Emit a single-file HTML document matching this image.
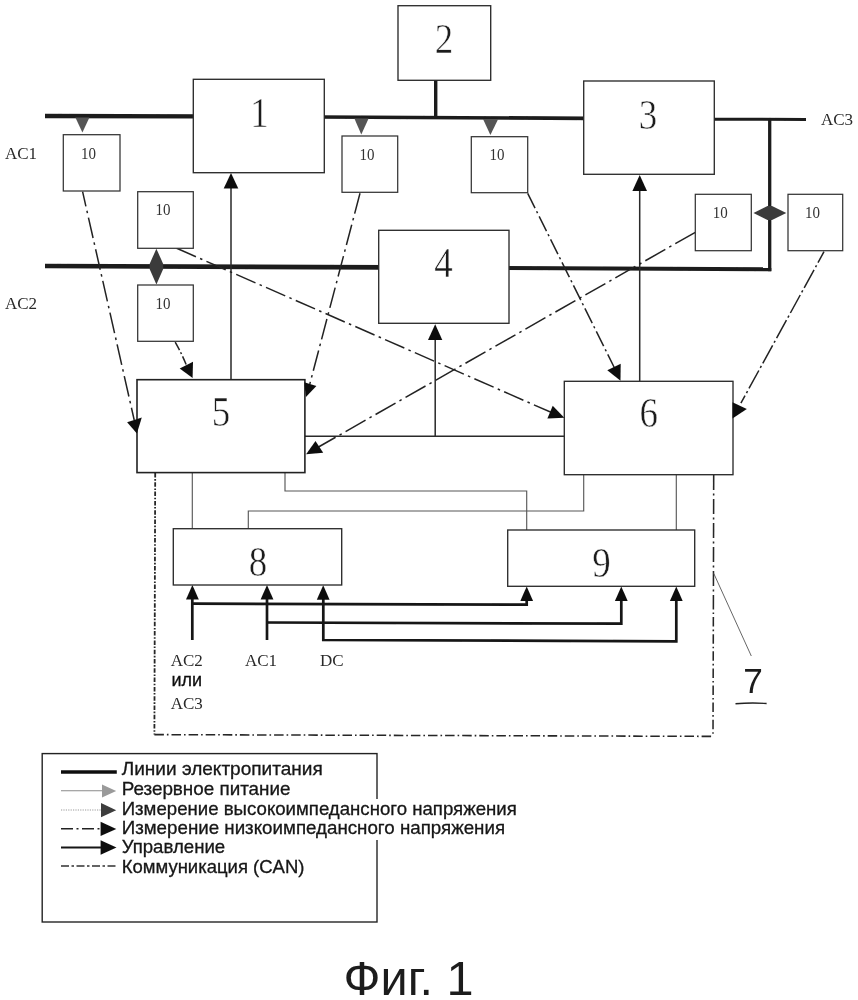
<!DOCTYPE html>
<html lang="ru">
<head>
<meta charset="utf-8">
<title>Фиг. 1</title>
<style>
  html, body { margin: 0; padding: 0; background: #ffffff; }
  body { width: 858px; height: 1000px; overflow: hidden; position: relative; font-family: "Liberation Sans", sans-serif; }
  svg { position: absolute; left: 0; top: 0; display: block; }
  .serif { font-family: "Liberation Serif", serif; }
  .sans { font-family: "Liberation Sans", sans-serif; }
</style>
</head>
<body>
<svg width="858" height="1000" viewBox="0 0 858 1000">
  <defs>
    <filter id="soft" x="-2%" y="-2%" width="104%" height="104%">
      <feGaussianBlur stdDeviation="0.32"/>
    </filter>
  </defs>
  <rect x="0" y="0" width="858" height="1000" fill="#ffffff"/>

  <g filter="url(#soft)">

  <!-- ===== power buses (thick) ===== -->
  <g id="buses" stroke="#1c1c1c" stroke-width="4" fill="none" stroke-linecap="butt">
    <path d="M45 116 L200 116.4" stroke-width="4.3"/>
    <path d="M320 117 L590 118.4" stroke-width="3.7"/>
    <path d="M710 119.2 L806 119.4" stroke-width="3"/>
    <path d="M45 266 L385 267.4" stroke-width="4.6"/>
    <path d="M505 268 L771.3 269.3" stroke-width="4"/>
    <path d="M435.7 80 L435.7 118" stroke-width="3.4"/>
    <path d="M769.7 118.5 L769.7 271.2" stroke-width="3.3"/>
  </g>

  <!-- ===== control lines (thin, with arrowheads) ===== -->
  <g id="control" stroke="#2a2a2a" stroke-width="1.5" fill="none">
    <path d="M231 379 L231 186"/>
    <path d="M639.7 381 L639.7 188"/>
    <path d="M435.2 436.3 L435.2 337"/>
    <path d="M305 436.3 L564.3 436.3"/>
  </g>
  <g id="control-heads" fill="#111" stroke="none">
    <path d="M231 173 L238.3 188.5 L223.7 188.5 Z"/>
    <path d="M639.7 175 L647 191 L632.4 191 Z"/>
    <path d="M435.2 324.3 L442.3 340 L428 340 Z"/>
  </g>

  <!-- ===== thin grey interconnects ===== -->
  <g id="thin" stroke="#585858" stroke-width="1.15" fill="none">
    <path d="M192.3 472.7 L192.3 528.7"/>
    <path d="M285 472.7 L285 491 L526.7 491 L526.7 530"/>
    <path d="M248.3 528.7 L248.3 511 L583.7 511 L583.7 474.7"/>
    <path d="M676.3 474.7 L676.3 530"/>
  </g>

  <!-- ===== dash-dot measurement lines ===== -->
  <g id="dashdot" stroke="#222" stroke-width="1.5" fill="none" stroke-dasharray="21 4.5 2.5 4.5">
    <path d="M82.6 191.7 L134.2 420" stroke-dashoffset="6"/>
    <path d="M176.7 248.3 L551 412.3"/>
    <path d="M175.2 342.1 Q182 354 186.5 365.5" stroke-dasharray="9 2.5 2 2.5"/>
    <path d="M360 193.3 L309.8 384"/>
    <path d="M527.7 193.3 L614.5 368" stroke-dasharray="16.5 3.5 2.2 3.5"/>
    <path d="M695.3 232.3 L318.5 447" stroke-dasharray="23 4.5 2.5 4.5"/>
    <path d="M824 251.7 L740.9 403.2" stroke-dasharray="20.5 3 2.2 3" stroke-dashoffset="8"/>
  </g>
  

  <!-- ===== CAN (dash-dot-dot) ===== -->
  <g id="can" stroke="#262626" stroke-width="1.55" fill="none">
    <path d="M155.2 473 L154.4 734.5" stroke-dasharray="4.5 1.6 1.6 1.6" stroke-width="1.8"/>
    <path d="M154.4 734.6 L713 736.4" stroke-dasharray="9.5 3 1.6 3"/>
    <path d="M713.7 475 L713.4 600" stroke-dasharray="15 3.5 2 3.5"/>
    <path d="M713.4 600 L713 736.4" stroke-dasharray="9.5 3 1.6 3"/>
  </g>

  <!-- leader for 7 -->
  <path d="M713.7 573.3 L751.3 656" stroke="#555" stroke-width="0.9" fill="none"/>
  <path d="M735.5 703.8 Q751 702.3 766.6 703.5" stroke="#222" stroke-width="1.4" fill="none"/>

  <!-- ===== power inputs (thick arrows) ===== -->
  <g id="inputs" stroke="#151515" stroke-width="2.7" fill="none" stroke-linejoin="miter">
    <path d="M192.3 640 L192.3 596"/>
    <path d="M192.3 603.6 L526.7 604.7 L526.7 597"/>
    <path d="M267 640 L267 596"/>
    <path d="M267 622.5 L621.3 623.7 L621.3 597"/>
    <path d="M323.3 596 L323.3 640 L676.3 641.3 L676.3 597"/>
  </g>
  <g id="input-heads" fill="#111" stroke="none">
    <path d="M192.4 585 L198.8 599.5 L186.0 599.5 Z"/>
    <path d="M267 585 L273.4 599.5 L260.6 599.5 Z"/>
    <path d="M323.2 585.3 L329.59999999999997 599.8 L316.8 599.8 Z"/>
    <path d="M526.7 586.5 L533.1 601.0 L520.3000000000001 601.0 Z"/>
    <path d="M621.3 586.5 L627.6999999999999 601.0 L614.9 601.0 Z"/>
    <path d="M676.3 586.5 L682.6999999999999 601.0 L669.9 601.0 Z"/>
  </g>

  <!-- ===== big boxes ===== -->
  <g id="boxes" fill="#ffffff" stroke="#2c2c2c" stroke-width="1.35">
    <rect x="193.3" y="79.3" width="131" height="93.4"/>
    <rect x="398" y="5.7" width="92.7" height="74.6"/>
    <rect x="583.7" y="81" width="130.6" height="93.3"/>
    <rect x="378.7" y="230.3" width="130.3" height="93"/>
    <rect x="137" y="379.7" width="167.9" height="92.9" stroke="#222" stroke-width="1.6"/>
    <rect x="564.3" y="381.3" width="168.7" height="93.4"/>
    <rect x="173.3" y="528.7" width="168.4" height="56.3"/>
    <rect x="507.7" y="530" width="187" height="56.3"/>
  </g>

  <!-- ===== small "10" boxes ===== -->
  <g id="small" fill="#ffffff" stroke="#333" stroke-width="1.25">
    <rect x="63.3" y="134.7" width="56.7" height="56.3"/>
    <rect x="137.7" y="191.7" width="55.6" height="56.6"/>
    <rect x="137.7" y="285" width="55.6" height="56.3"/>
    <rect x="342" y="136" width="55.7" height="56.3"/>
    <rect x="471.3" y="136.7" width="56.4" height="56"/>
    <rect x="695.3" y="194.3" width="56" height="56.4"/>
    <rect x="788" y="194.3" width="54.7" height="56.4"/>
  </g>

  <g id="dashdot-heads" fill="#111" stroke="none">
    <path d="M136.9 433.6 L127.1 422.2 L141.8 417.5 Z"/>
    <path d="M564.3 417.7 L547.4 418.6 L552.7 405.7 Z"/>
    <path d="M192.6 377.9 L179.7 368.6 L193 361.8 Z"/>
    <path d="M305.9 397.1 L304.3 382.2 L316.4 386 Z"/>
    <path d="M620.5 380.8 L607.3 370.3 L620.7 363.8 Z"/>
    <path d="M306.1 454.2 L315.5 441 L323.2 452.8 Z"/>
    <path d="M732.5 402.3 L746.8 408.9 L732.5 418.4 Z"/>
  </g>

  <!-- ===== reserve power triangles (grey) ===== -->
  <g id="reserve" fill="#555" stroke="none">
    <path d="M75.4 117.5 L89.4 117.5 L82.4 132.6 Z"/>
    <path d="M354.4 118.5 L368.6 118.5 L361.3 134.4 Z"/>
    <path d="M483 119 L498.2 119 L490.4 134.9 Z"/>
  </g>
  <!-- double arrows -->
  <g id="double" fill="#3a3a3a" stroke="none">
    <path d="M156.4 248.7 L163.2 264 L163.2 269 L156.4 284.4 L149.6 269 L149.6 264 Z"/>
    <path d="M753.5 213 L767.5 206 L772 206 L786.3 213 L772 220 L767.5 220 Z"/>
  </g>

  <!-- ===== text ===== -->
  <g id="nums" class="serif" font-family="Liberation Serif" font-size="42" fill="#1e1e1e" stroke="#ffffff" stroke-width="0.5" text-anchor="middle">
    <text transform="translate(259.4 127.2) scale(0.88 1)">1</text>
    <text transform="translate(444 52.7) scale(0.88 1)">2</text>
    <text transform="translate(648 128.6) scale(0.88 1)">3</text>
    <text transform="translate(443.4 276.9) scale(0.88 1)">4</text>
    <text transform="translate(221.1 426.2) scale(0.88 1)">5</text>
    <text transform="translate(648.8 427.2) scale(0.88 1)">6</text>
    <text transform="translate(257.9 575.9) scale(0.88 1)">8</text>
    <text transform="translate(601.5 576.6) scale(0.88 1)">9</text>
  </g>
  <g id="tens" class="serif" font-family="Liberation Serif" font-size="16.3" fill="#333" text-anchor="middle">
    <text transform="translate(88.6 158.6) scale(0.92 1)">10</text>
    <text transform="translate(163 215) scale(0.92 1)">10</text>
    <text transform="translate(163 308.6) scale(0.92 1)">10</text>
    <text transform="translate(367 159.5) scale(0.92 1)">10</text>
    <text transform="translate(497 160.2) scale(0.92 1)">10</text>
    <text transform="translate(720.3 217.8) scale(0.92 1)">10</text>
    <text transform="translate(812.5 217.8) scale(0.92 1)">10</text>
  </g>
  <g id="labels" class="serif" font-family="Liberation Serif" font-size="17" fill="#2a2a2a">
    <text x="5" y="159.3">AC1</text>
    <text x="5" y="309">AC2</text>
    <text x="821" y="125.3">AC3</text>
    <text x="170.7" y="666">AC2</text>
    <text x="170.7" y="708.7">AC3</text>
    <text x="245" y="666">AC1</text>
    <text x="320" y="666">DC</text>
  </g>
  <text class="sans" font-family="Liberation Sans" font-size="18" x="171.5" y="685.5" fill="#111" stroke="#111" stroke-width="0.32">или</text>
  <text class="sans" font-family="Liberation Sans" font-size="35" x="743.3" y="693.2" textLength="19.6" lengthAdjust="spacingAndGlyphs" fill="#1a1a1a">7</text>

  <!-- ===== legend ===== -->
  <g id="legend">
    <rect x="42.2" y="753.6" width="334.8" height="168.4" fill="none" stroke="#222" stroke-width="1.4"/>
    <rect x="372" y="799" width="150" height="41" fill="#ffffff" stroke="none"/>
    <!-- samples -->
    <path d="M61 772 L116.8 772" stroke="#111" stroke-width="3.3" fill="none"/>
    <path d="M61 790.7 L104 790.7" stroke="#8a8a8a" stroke-width="1.1" fill="none"/>
    <path d="M102 784.5 L116.2 791 L102 797.5 Z" fill="#9a9a9a"/>
    <path d="M61 810 L103 810" stroke="#999" stroke-width="1.2" stroke-dasharray="1.2 1.2" fill="none"/>
    <path d="M101 803 L116.2 810.2 L101 817.3 Z" fill="#3c3c3c"/>
    <path d="M61 828.8 L103 828.8" stroke="#222" stroke-width="1.6" stroke-dasharray="12 3.5 2 3.5" fill="none"/>
    <path d="M100.6 821.7 L116.3 828.9 L100.6 836 Z" fill="#111"/>
    <path d="M61 847.5 L104 847.5" stroke="#161616" stroke-width="1.9" fill="none"/>
    <path d="M100.6 840.2 L116.5 847.6 L100.6 854.8 Z" fill="#111"/>
    <path d="M61 866 L116.8 866" stroke="#333" stroke-width="1.4" stroke-dasharray="8 2.5 2.5 2.5" fill="none"/>
    <g class="sans" font-family="Liberation Sans" font-size="18.4" fill="#151515" stroke="#151515" stroke-width="0.3">
      <text x="121.7" y="775.3" textLength="201.1" lengthAdjust="spacingAndGlyphs">Линии электропитания</text>
      <text x="121.7" y="794.5" textLength="168.8" lengthAdjust="spacingAndGlyphs">Резервное питание</text>
      <text x="121.7" y="814.6" textLength="395.1" lengthAdjust="spacingAndGlyphs">Измерение высокоимпедансного напряжения</text>
      <text x="121.7" y="833.9" textLength="383.4" lengthAdjust="spacingAndGlyphs">Измерение низкоимпедансного напряжения</text>
      <text x="121.7" y="853.2" textLength="103.5" lengthAdjust="spacingAndGlyphs">Управление</text>
      <text x="121.7" y="872.7" textLength="182.8" lengthAdjust="spacingAndGlyphs">Коммуникация (CAN)</text>
    </g>
  </g>

  <!-- caption -->
  <text class="sans" font-family="Liberation Sans" font-size="48.6" x="343.5" y="995.3" textLength="130" lengthAdjust="spacingAndGlyphs" fill="#1c1c1c">Фиг. 1</text>

  </g>
</svg>
</body>
</html>
